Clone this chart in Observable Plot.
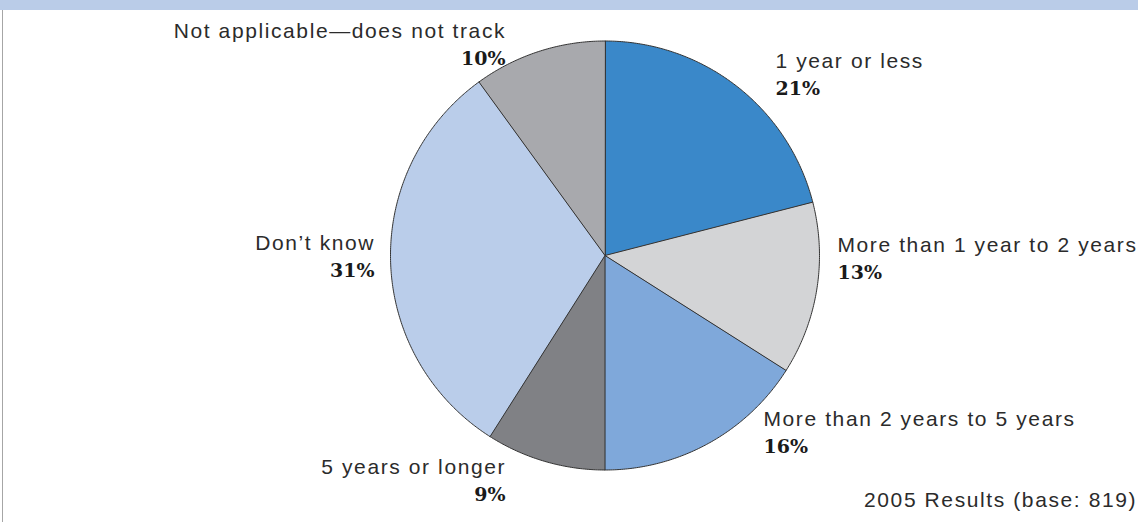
<!DOCTYPE html>
<html>
<head>
<meta charset="utf-8">
<script src="https://cdn.jsdelivr.net/npm/d3@7"></script>
<script src="https://cdn.jsdelivr.net/npm/@observablehq/plot@0.6"></script>
<style>
  html, body { margin: 0; padding: 0; background: #fff; }
  #band { height: 10px; background: #BACCE8; width: 1138px; }
  #wrap { position: relative; width: 1138px; height: 512px; }
  #edge { position: absolute; left: 2px; top: 0; width: 1px; height: 512px; background: #a6a6a6; }
  g.nm text, .nm text { letter-spacing: 1.6px; }
</style>
</head>
<body>
<div id="band"></div>
<div id="wrap"><div id="edge"></div><div id="chart"></div></div>
<script>
// ---- data ----
const categories = [
  "1 year or less",
  "More than 1 year to 2 years",
  "More than 2 years to 5 years",
  "5 years or longer",
  "Don\u2019t know",
  "Not applicable\u2014does not track"
];
const shares = [21, 13, 16, 9, 31, 10];
const pctLabels = ["21%", "13%", "16%", "9%", "31%", "10%"];
const sliceColors = ["#3A88C9", "#D3D4D6", "#7FA8DA", "#808185", "#BACDEA", "#A8A9AD"];
const caption = "2005 Results (base: 819)";

// ---- layout (page pixels: name baseline, text anchor) ----
const cx = 604.5, cy = 255, R = 214.5, bandH = 10;
const labelLayout = [
  {px: 775, py: 67, anchor: "start"},
  {px: 837, py: 251, anchor: "start"},
  {px: 763, py: 425, anchor: "start"},
  {px: 504, py: 473, anchor: "end"},
  {px: 373, py: 249, anchor: "end"},
  {px: 504, py: 37, anchor: "end"}
];
const lineGap = 27;

const toUx = px => (px - cx) / R;
const toUy = py => (cy - py) / R;

// ---- build slice polygons from shares ----
const total = d3.sum(shares);
const pts = [];
let acc = 0;
categories.forEach((c, i) => {
  const a0 = acc / total * 2 * Math.PI;
  acc += shares[i];
  const a1 = acc / total * 2 * Math.PI;
  pts.push({cat: c, color: sliceColors[i], x: 0, y: 0});
  const n = Math.max(2, Math.ceil((a1 - a0) / (Math.PI / 360)));
  for (let k = 0; k <= n; k++) {
    const a = a0 + (a1 - a0) * k / n;
    pts.push({cat: c, color: sliceColors[i], x: Math.sin(a), y: Math.cos(a)});
  }
});

const names = categories.map((c, i) => ({
  text: c, anchor: labelLayout[i].anchor,
  x: toUx(labelLayout[i].px + (labelLayout[i].anchor === "end" ? 1.6 : 0)), y: toUy(labelLayout[i].py)
}));
const pcts = pctLabels.map((t, i) => ({
  text: t, anchor: labelLayout[i].anchor,
  x: toUx(labelLayout[i].px + (labelLayout[i].anchor === "end" ? 1 : 0)),
  y: toUy(labelLayout[i].py + lineGap)
}));

const chart = Plot.plot({
  width: 1138,
  height: 512,
  margin: 0,
  x: {type: "linear", domain: [-1, 1], range: [cx - R, cx + R], axis: null},
  y: {type: "linear", domain: [-1, 1], range: [cy - bandH + R, cy - bandH - R], axis: null},
  color: {type: "identity"},
  style: {background: "transparent", overflow: "visible"},
  marks: [
    Plot.line(pts, {x: "x", y: "y", z: "cat", fill: "color", stroke: "#333", strokeWidth: 1, curve: "linear-closed", strokeLinejoin: "round"}),
    Plot.text(names.filter(d => d.anchor === "start"), {x: "x", y: "y", text: "text", textAnchor: "start", lineAnchor: "bottom",
      fontFamily: "Liberation Sans, Arial, sans-serif", fontSize: 21, fill: "#2b2b2b", className: "nm"}),
    Plot.text(names.filter(d => d.anchor === "end"), {x: "x", y: "y", text: "text", textAnchor: "end", lineAnchor: "bottom",
      fontFamily: "Liberation Sans, Arial, sans-serif", fontSize: 21, fill: "#2b2b2b", className: "nm"}),
    Plot.text(pcts.filter(d => d.anchor === "start"), {x: "x", y: "y", text: "text", textAnchor: "start", lineAnchor: "bottom",
      fontFamily: "DejaVu Serif, serif", fontWeight: "bold", fontSize: 19, fill: "#1a1a1a"}),
    Plot.text(pcts.filter(d => d.anchor === "end"), {x: "x", y: "y", text: "text", textAnchor: "end", lineAnchor: "bottom",
      fontFamily: "DejaVu Serif, serif", fontWeight: "bold", fontSize: 19, fill: "#1a1a1a"}),
    Plot.text([caption], {x: toUx(1136.6), y: toUy(506), text: d => d, textAnchor: "end", lineAnchor: "bottom",
      fontFamily: "Liberation Sans, Arial, sans-serif", fontSize: 21, fill: "#2b2b2b", className: "nm"})
  ]
});
document.getElementById("chart").appendChild(chart);
</script>
</body>
</html>
